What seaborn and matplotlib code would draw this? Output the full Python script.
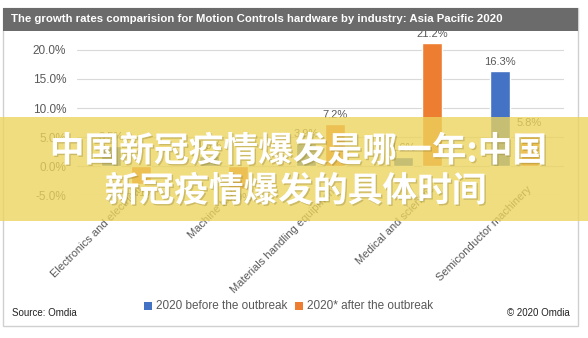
import matplotlib
matplotlib.use("Agg")
import matplotlib.pyplot as plt
import matplotlib.transforms as mtransforms
import matplotlib.patheffects as pe
from matplotlib.patches import Rectangle
import seaborn as sns
import pandas as pd

categories = ["Electronics and electrical", "Machine tools",
              "Materials handling equipment", "Medical and scientific",
              "Semiconductor machinery"]
before = [3.5, 1.8, 3.9, 1.6, 16.3]
after = [-3.1, -3.9, 7.2, 21.2, 5.8]
series = ["2020 before the outbreak", "2020* after the outbreak"]
yticks = [-5, 0, 5, 10, 15, 20]

df = pd.DataFrame({
    "industry": categories * 2,
    "growth": before + after,
    "series": [series[0]] * len(categories) + [series[1]] * len(categories),
})

sns.set_theme(style="white")
plt.rcParams["font.family"] = ["Liberation Sans", "DejaVu Sans"]

fig = plt.figure(figsize=(5.88, 3.38), dpi=100)
fig.patch.set_facecolor("white")
ax = fig.add_axes([0.1316, 0.423, 0.8269, 0.472])

sns.barplot(data=df, x="industry", y="growth", hue="series",
            palette=["#4472C4", "#ED7D31"], width=0.6, gap=0.32,
            ax=ax, legend=False, saturation=1)

ax.set_ylim(-5, 22.5)
ax.set_xlim(-0.5, 4.5)
ax.set_yticks(yticks)
ax.set_yticklabels([f"{v:.1f}%" for v in yticks], color="#595959", fontsize=8.5)
ax.yaxis.grid(True, color="#d9d9d9", linewidth=0.8)
ax.set_axisbelow(True)
for s in ax.spines.values():
    s.set_visible(False)
ax.set_xlabel("")
ax.set_ylabel("")
ax.tick_params(axis="y", length=0, pad=8)
ax.tick_params(axis="x", length=0)

for cont in ax.containers:
    ax.bar_label(cont, labels=[f"{v:.1f}%" for v in cont.datavalues],
                 padding=3, fontsize=8, color="#595959")

ax.set_xticks(range(len(categories)))
ax.set_xticklabels(categories, rotation=45, ha="right", va="center",
                   rotation_mode="anchor", fontsize=8, color="#595959")
offset = mtransforms.ScaledTranslation(15 / 100, 12 / 100, fig.dpi_scale_trans)
for lab in ax.get_xticklabels():
    lab.set_transform(lab.get_transform() + offset)

# frame and title bar
W, H = 588, 338
def fx(x): return x / W
def fy(y): return 1 - y / H
fig.patches.append(Rectangle((fx(3), fy(326)), fx(575), (326 - 8) / H,
                             transform=fig.transFigure, fill=False,
                             edgecolor="#d0d0d0", linewidth=1, zorder=0))
fig.patches.append(Rectangle((fx(3), fy(31)), fx(575), 23 / H,
                             transform=fig.transFigure, facecolor="#6b6b6b",
                             edgecolor="none", zorder=5))
fig.text(fx(11), fy(19.5),
         "The growth rates comparision for Motion Controls hardware by industry: Asia Pacific 2020",
         color="white", fontsize=8.2, fontweight="bold", va="center", ha="left", zorder=6)

# legend
colors = ["#4472C4", "#ED7D31"]
lx = [144, 295]
for c, x0, name in zip(colors, lx, series):
    fig.patches.append(Rectangle((fx(x0), fy(310)), fx(8), 8 / H,
                                 transform=fig.transFigure, facecolor=c,
                                 edgecolor="none"))
    fig.text(fx(x0 + 12), fy(306), name, fontsize=8.5, color="#595959",
             va="center", ha="left")
fig.text(fx(12), fy(313), "Source: Omdia", fontsize=7, color="#222222",
         va="center", ha="left")
fig.text(fx(570), fy(313), "© 2020 Omdia", fontsize=7, color="#222222",
         va="center", ha="right")

# overlay band with headline
fig.patches.append(Rectangle((0, fy(221)), 1, (221 - 117) / H,
                             transform=fig.transFigure, facecolor="#ECD45C",
                             alpha=0.78, edgecolor="none", zorder=10))
fx_eff = [pe.withSimplePatchShadow(offset=(1, -1), shadow_rgbFace="#8a7a30", alpha=0.35)]
fig.text(0.508, fy(151), "中国新冠疫情爆发是哪一年:中国", fontsize=25,
         fontweight="heavy", color="white", ha="center", va="center",
         family=["Noto Sans CJK SC", "DejaVu Sans"], zorder=11,
         path_effects=fx_eff)
fig.text(0.503, fy(191), "新冠疫情爆发的具体时间", fontsize=25,
         fontweight="heavy", color="white", ha="center", va="center",
         family=["Noto Sans CJK SC", "DejaVu Sans"], zorder=11,
         path_effects=fx_eff)

fig.savefig("out.png", dpi=100)
